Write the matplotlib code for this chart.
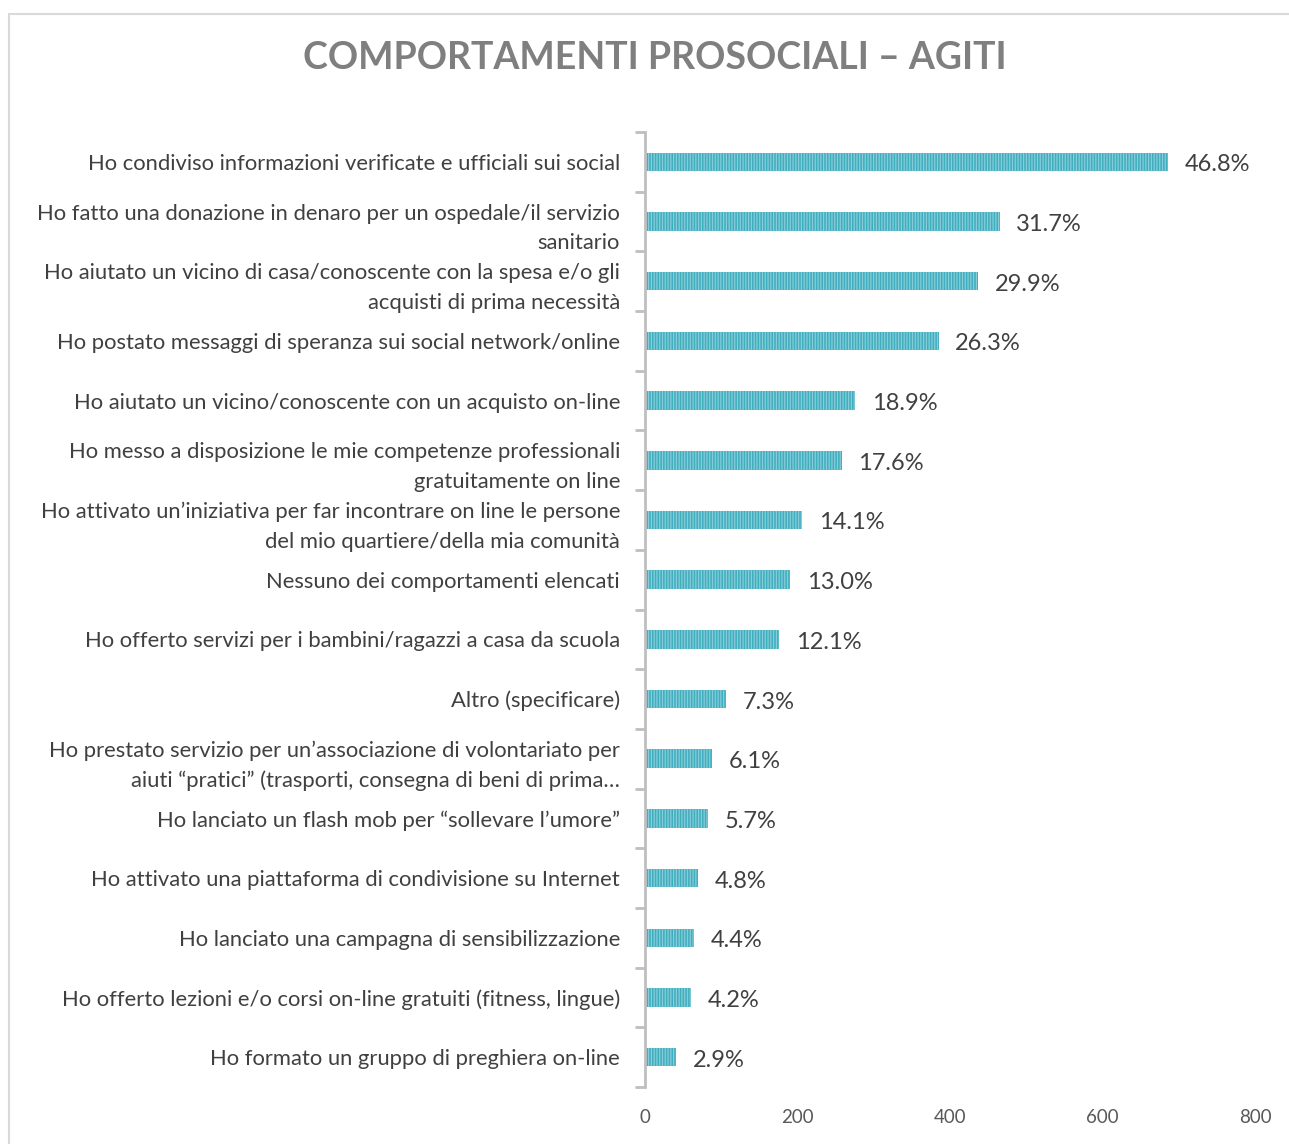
import matplotlib.pyplot as plt
import matplotlib.patches as mpatches

plt.rcParams['font.family'] = ['Lato', 'DejaVu Sans']
plt.rcParams['hatch.linewidth'] = 0.9
plt.rcParams['hatch.color'] = '#86CDD9'

categories = [
    'Ho condiviso informazioni verificate e ufficiali sui social',
    'Ho fatto una donazione in denaro per un ospedale/il servizio\nsanitario',
    'Ho aiutato un vicino di casa/conoscente con la spesa e/o gli\nacquisti di prima necessità',
    'Ho postato messaggi di speranza sui social network/online',
    'Ho aiutato un vicino/conoscente con un acquisto on-line',
    'Ho messo a disposizione le mie competenze professionali\ngratuitamente on line',
    'Ho attivato un’iniziativa per far incontrare on line le persone\ndel mio quartiere/della mia comunità',
    'Nessuno dei comportamenti elencati',
    'Ho offerto servizi per i bambini/ragazzi a casa da scuola',
    'Altro (specificare)',
    'Ho prestato servizio per un’associazione di volontariato per\naiuti “pratici” (trasporti, consegna di beni di prima…',
    'Ho lanciato un flash mob per “sollevare l’umore”',
    'Ho attivato una piattaforma di condivisione su Internet',
    'Ho lanciato una campagna di sensibilizzazione',
    'Ho offerto lezioni e/o corsi on-line gratuiti (fitness, lingue)',
    'Ho formato un gruppo di preghiera on-line',
]
counts = [686, 465, 437, 385, 276, 258, 206, 190, 176, 106, 88, 83, 69, 64, 60, 41]
pct_labels = ['46.8%', '31.7%', '29.9%', '26.3%', '18.9%', '17.6%', '14.1%', '13.0%',
              '12.1%', '7.3%', '6.1%', '5.7%', '4.8%', '4.4%', '4.2%', '2.9%']
xticks = [0, 200, 400, 600, 800]

fig = plt.figure(figsize=(12.89, 11.44), dpi=100)
ax = fig.add_axes([0.5004, 0.0498, 0.4732, 0.8348])

y = list(range(len(categories)))
ax.barh(y, counts, height=0.31, color='#3FAEBF', edgecolor='#86CDD9',
        hatch='||||||', linewidth=0)
ax.set_ylim(len(categories) - 0.5, -0.5)
ax.set_xlim(0, 800)

for yi, c, lab in zip(y, counts, pct_labels):
    ax.text(c + 22, yi + 0.05, lab, va='center', ha='left', fontsize=17, color='#404040')

ax.set_yticks(y)
ax.set_yticklabels(categories, fontsize=15.8, color='#404040', linespacing=1.6)
ax.tick_params(axis='y', length=0, pad=18)
ax.set_yticks([i - 0.5 for i in range(len(categories) + 1)], minor=True)
ax.tick_params(axis='y', which='minor', length=7, width=2, color='#BFBFBF')

ax.set_xticks(xticks)
ax.set_xticklabels([str(t) for t in xticks], fontsize=13.5, color='#595959')
ax.tick_params(axis='x', length=0, pad=16)

for s in ['top', 'right', 'bottom']:
    ax.spines[s].set_visible(False)
ax.spines['left'].set_color('#BFBFBF')
ax.spines['left'].set_linewidth(2)

fig.text(0.508, 0.949, 'COMPORTAMENTI PROSOCIALI – AGITI', ha='center', va='center',
         fontsize=27, fontweight='bold', color='#7F7F7F')

border = mpatches.Rectangle((9 / 1289, -0.05), 1.1, 1 - 14 / 1144 + 0.05,
                            transform=fig.transFigure, fill=False,
                            edgecolor='#D9D9D9', linewidth=1.5, clip_on=False)
fig.patches.append(border)

fig.savefig('out.png', dpi=100, facecolor='white')
